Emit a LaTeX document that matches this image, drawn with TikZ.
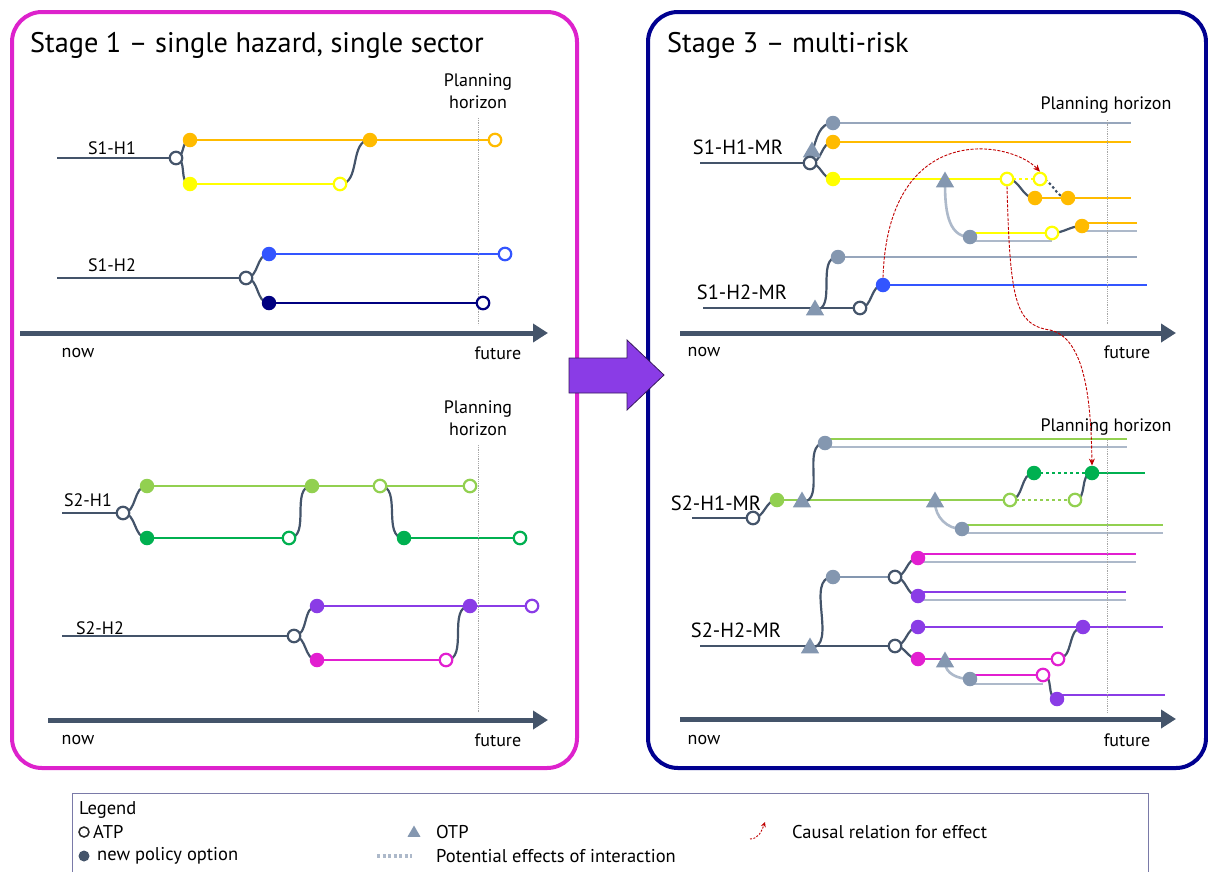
\documentclass[tikz,border=0pt]{standalone}
\usepackage{fontspec}
\setmainfont{PT Sans}
\usetikzlibrary{arrows.meta,shapes.geometric,calc}
\definecolor{slate}{HTML}{44546A}
\definecolor{orng}{HTML}{FFBB00}
\definecolor{yel}{HTML}{FFFF00}
\definecolor{blu}{HTML}{3355FF}
\definecolor{nav}{HTML}{000080}
\definecolor{lgr}{HTML}{92D050}
\definecolor{grn}{HTML}{00B050}
\definecolor{pur}{HTML}{8A3CE6}
\definecolor{mag}{HTML}{E21FD0}
\definecolor{gdot}{HTML}{8497B0}
\definecolor{glin}{HTML}{ADB9CA}
\definecolor{gmid}{HTML}{97A6BC}
\definecolor{redc}{HTML}{C00000}
\definecolor{panelA}{HTML}{DD22CC}
\definecolor{panelB}{HTML}{000090}
\definecolor{legb}{HTML}{7A7AA8}
\pgfdeclarelayer{bg}
\pgfsetlayers{bg,main}
\begin{document}
\begin{tikzpicture}[x=1pt,y=-1pt,
  ln/.style={line width=2.6pt},
  crv/.style={draw=slate,line width=2.2pt},
  gcrv/.style={draw=glin,line width=2.6pt},
  atp/.style={circle,draw=#1,fill=white,line width=2.2pt,minimum size=12.5pt,inner sep=0pt},
  npo/.style={circle,fill=#1,minimum size=14.5pt,inner sep=0pt},
  otp/.style={regular polygon,regular polygon sides=3,fill=gdot,minimum size=21pt,inner sep=0pt},
  lab/.style={font=\fontsize{18}{20}\selectfont,inner sep=0pt},
  labmr/.style={font=\fontsize{20.5}{22}\selectfont,inner sep=0pt},
  ttl/.style={font=\fontsize{28.3}{31}\selectfont,anchor=west,inner sep=0pt},
  lgd/.style={font=\fontsize{18.5}{20}\selectfont,anchor=west,inner sep=0pt},
  axisarrow/.style={draw=slate,line width=5pt,-{Triangle[length=15pt,width=18pt]}},
  horiz/.style={draw=black!35,densely dotted,line width=0.8pt},
  dotl/.style={line width=2.6pt,dash pattern=on 3pt off 3pt},
  causal/.style={draw=redc,line width=0.9pt,dash pattern=on 3pt off 1.5pt,-{Stealth[length=7pt,width=6pt]}},
  panel/.style={draw=#1,line width=4pt,rounded corners=30pt,inner sep=0pt},
]
\useasboundingbox (0,0) rectangle (1208,871);
% panels
\node[panel=panelA,minimum width=565pt,minimum height=756pt] (P1) at (294.5,390) {};
\node[panel=panelB,minimum width=558pt,minimum height=756pt] (P3) at (927,390) {};
\node[ttl] (T1) at (30,45) {Stage 1 – single hazard, single sector};
\node[ttl] (T3) at (667,45) {Stage 3 – multi-risk};

% ================= LEFT TOP =================
\node[lab,align=center] (PH1) at (478,91) {Planning\\[2pt]horizon};
\coordinate (ph1a) at (478,118); \coordinate (ph1b) at (478,325);
\draw[horiz] (ph1a) -- (ph1b);
% S1-H1
\node[lab] (t11) at (112,148) {S1-H1};
\coordinate (b11) at (57,158);
\node[atp=slate] (a11) at (176,158) {};
\node[npo=orng] (o11) at (190,140) {};
\node[npo=yel] (y11) at (190,184) {};
\node[npo=orng] (o12) at (370,140) {};
\node[atp=orng] (o13) at (495,140) {};
\node[atp=yel] (y12) at (340,184) {};
% S1-H2
\node[lab] (t12) at (112,265) {S1-H2};
\coordinate (b12) at (57,278);
\node[atp=slate] (a12) at (246,278) {};
\node[npo=blu] (u11) at (269,254) {};
\node[npo=nav] (n11) at (269,303) {};
\node[atp=blu] (u12) at (505,254) {};
\node[atp=nav] (n12) at (483,303) {};
\begin{pgfonlayer}{bg}
\draw[ln,slate] (b11) -- (a11.center);
\draw[crv] (a11.center) to[out=0,in=180] (o11.center);
\draw[crv] (a11.center) to[out=0,in=180] (y11.center);
\draw[ln,orng] (o11.center) -- (o13.center);
\draw[ln,yel] (y11.center) -- (y12.center);
\draw[crv] (y12.center) to[out=0,in=180] (o12.center);
\draw[ln,slate] (b12) -- (a12.center);
\draw[crv] (a12.center) to[out=0,in=180] (u11.center);
\draw[crv] (a12.center) to[out=0,in=180] (n11.center);
\draw[ln,blu] (u11.center) -- (u12.center);
\draw[ln,nav] (n11.center) -- (n12.center);
\end{pgfonlayer}
\coordinate (ax1s) at (20,333); \coordinate (ax1e) at (548,333);
\draw[axisarrow] (ax1s) -- (ax1e);
\node[lab] (now1) at (78,353) {now};
\node[lab] (fut1) at (498,353) {future};

% ================= LEFT BOTTOM =================
\node[lab,align=center] (PH2) at (478,418) {Planning\\[2pt]horizon};
\coordinate (ph2a) at (478,445); \coordinate (ph2b) at (478,712);
\draw[horiz] (ph2a) -- (ph2b);
% S2-H1
\node[lab] (t21) at (88,500) {S2-H1};
\coordinate (b21) at (62,513);
\node[atp=slate] (a21) at (123,513) {};
\node[npo=lgr] (l21) at (147,486) {};
\node[npo=grn] (g21) at (147,538) {};
\node[npo=lgr] (l22) at (312,486) {};
\node[atp=lgr] (l23) at (380,486) {};
\node[atp=lgr] (l24) at (470,486) {};
\node[atp=grn] (g22) at (289,538) {};
\node[npo=grn] (g23) at (404,538) {};
\node[atp=grn] (g24) at (520,538) {};
% S2-H2
\node[lab] (t22) at (100,628) {S2-H2};
\coordinate (b22) at (62,636);
\node[atp=slate] (a22) at (294,636) {};
\node[npo=pur] (p21) at (317,606) {};
\node[npo=mag] (m21) at (317,660) {};
\node[npo=pur] (p22) at (470,606) {};
\node[atp=pur] (p23) at (532,606) {};
\node[atp=mag] (m22) at (446,660) {};
\begin{pgfonlayer}{bg}
\draw[ln,slate] (b21) -- (a21.center);
\draw[crv] (a21.center) to[out=0,in=180] (l21.center);
\draw[crv] (a21.center) to[out=0,in=180] (g21.center);
\draw[ln,lgr] (l21.center) -- (l24.center);
\draw[ln,grn] (g21.center) -- (g22.center);
\draw[crv] (g22.center) to[out=0,in=180] (l22.center);
\draw[crv] (l23.center) to[out=0,in=180] (g23.center);
\draw[ln,grn] (g23.center) -- (g24.center);
\draw[ln,slate] (b22) -- (a22.center);
\draw[crv] (a22.center) to[out=0,in=180] (p21.center);
\draw[crv] (a22.center) to[out=0,in=180] (m21.center);
\draw[ln,pur] (p21.center) -- (p23.center);
\draw[ln,mag] (m21.center) -- (m22.center);
\draw[crv] (m22.center) to[out=0,in=180] (p22.center);
\end{pgfonlayer}
\coordinate (ax2s) at (48,720); \coordinate (ax2e) at (548,720);
\draw[axisarrow] (ax2s) -- (ax2e);
\node[lab] (now2) at (78,740) {now};
\node[lab] (fut2) at (498,740) {future};

% ================= RIGHT TOP =================
\node[lab] (PH3) at (1106,105) {Planning horizon};
\coordinate (ph3a) at (1107,120); \coordinate (ph3b) at (1107,325);
\draw[horiz] (ph3a) -- (ph3b);
% S1-H1-MR
\node[labmr] (t31) at (738,147) {S1-H1-MR};
\coordinate (b31) at (700,163);
\node[otp] (o31) at (812,152) {};
\node[atp=slate] (a31) at (810,163) {};
\node[npo=gdot] (g31) at (833,123) {};
\node[npo=orng] (r31) at (833,142) {};
\node[npo=yel] (y31) at (833,179) {};
\node[atp=yel] (y32) at (1007,179) {};
\node[atp=yel] (y33) at (1040,179) {};
\node[npo=orng] (r32) at (1035,198) {};
\node[npo=orng] (r33) at (1068,198) {};
\node[otp] (o32) at (945,182) {};
\node[npo=gdot] (g32) at (970,237) {};
\node[atp=yel] (y34) at (1052,233) {};
\node[npo=orng] (r34) at (1082,226) {};
% S1-H2-MR
\node[labmr] (t32) at (742,292) {S1-H2-MR};
\coordinate (b32) at (703,308);
\node[otp] (o33) at (815,310) {};
\node[atp=slate] (a32) at (860,308) {};
\node[npo=gdot] (g33) at (838,257) {};
\node[npo=blu] (u31) at (883,285) {};
\begin{pgfonlayer}{bg}
\draw[ln,slate] (b31) -- (a31.center);
\draw[crv] (a31.center) to[out=0,in=180] (r31.center);
\draw[crv] (a31.center) to[out=0,in=180] (y31.center);
\draw[crv] (o31.center) to[out=70,in=180] (g31.center);
\draw[ln,gmid] (g31.center) -- (1131,123);
\draw[ln,orng] (r31.center) -- (1131,142);
\draw[ln,yel] (y31.center) -- (y32.center);
\draw[dotl,yel] (y32.center) -- (y33.center);
\draw[crv] (y32.center) to[out=0,in=180] (r32.center);
\draw[crv,dash pattern=on 2.5pt off 2.5pt] (y33.center) to[out=0,in=180] (r33.center);
\draw[ln,orng] (r32.center) -- (1131,198);
\draw[gcrv] (o32.center) to[out=-90,in=180] (g32.center);
\draw[ln,yel] (970,233) -- (y34.center);
\draw[ln,glin] (970,241) -- (1052,241);
\draw[crv] (y34.center) to[out=0,in=180] (r34.center);
\draw[ln,orng] (1082,223) -- (1137,223);
\draw[ln,glin] (1082,231) -- (1137,231);
\draw[ln,slate] (b32) -- (a32.center);
\draw[crv] (o33.center) to[out=0,in=180] (g33.center);
\draw[ln,gmid] (g33.center) -- (1137,257);
\draw[crv] (a32.center) to[out=0,in=180] (u31.center);
\draw[ln,blu] (u31.center) -- (1147,285);
\end{pgfonlayer}
\coordinate (ax3s) at (680,333); \coordinate (ax3e) at (1176,333);
\draw[axisarrow] (ax3s) -- (ax3e);
\node[lab] (now3) at (704,352) {now};
\node[lab] (fut3) at (1127,352) {future};

% ================= RIGHT BOTTOM =================
\node[lab] (PH4) at (1106,427) {Planning horizon};
\coordinate (ph4a) at (1107,440); \coordinate (ph4b) at (1107,712);
\draw[horiz] (ph4a) -- (ph4b);
% S2-H1-MR
\node[labmr] (t41) at (716,503) {S2-H1-MR};
\coordinate (b41) at (692,518);
\node[atp=slate] (a41) at (753,518) {};
\node[npo=lgr] (l41) at (777,500) {};
\node[otp] (o41) at (802,502) {};
\node[npo=gdot] (g41) at (825,443) {};
\node[atp=lgr] (l42) at (1010,500) {};
\node[atp=lgr] (l43) at (1075,500) {};
\node[npo=grn] (n41) at (1034,473) {};
\node[npo=grn] (n42) at (1092,473) {};
\node[otp] (o42) at (935,502) {};
\node[npo=gdot] (g42) at (962,529) {};
% S2-H2-MR
\node[labmr] (t42) at (736,630) {S2-H2-MR};
\coordinate (b42) at (700,646);
\node[otp] (o43) at (810,648) {};
\node[atp=slate] (a42) at (895,646) {};
\node[npo=gdot] (g43) at (833,577) {};
\node[atp=slate] (a43) at (895,577) {};
\node[npo=mag] (m41) at (918,558) {};
\node[npo=pur] (p41) at (918,596) {};
\node[npo=pur] (p42) at (918,627) {};
\node[npo=mag] (m42) at (918,659) {};
\node[npo=pur] (p43) at (1083,627) {};
\node[atp=mag] (m43) at (1058,659) {};
\node[otp] (o44) at (945,662) {};
\node[npo=gdot] (g44) at (970,679) {};
\node[atp=mag] (m44) at (1043,675) {};
\node[npo=pur] (p44) at (1057,699) {};
\begin{pgfonlayer}{bg}
\draw[ln,slate] (b41) -- (a41.center);
\draw[crv] (a41.center) to[out=0,in=180] (l41.center);
\draw[ln,lgr] (l41.center) -- (l42.center);
\draw[crv] (o41.center) to[out=0,in=180] (g41.center);
\draw[ln,lgr] (825,439) -- (1127,439);
\draw[ln,glin] (825,447) -- (1127,447);
\draw[gcrv] (o42.center) to[out=-90,in=180] (g42.center);
\draw[ln,lgr] (962,525) -- (1163,525);
\draw[ln,glin] (962,533) -- (1163,533);
\draw[dotl,lgr] (l42.center) -- (l43.center);
\draw[crv] (l42.center) to[out=0,in=180] (n41.center);
\draw[dotl,grn] (n41.center) -- (n42.center);
\draw[crv] (l43.center) to[out=0,in=180] (n42.center);
\draw[ln,grn] (n42.center) -- (1145,473);
\draw[ln,slate] (b42) -- (a42.center);
\draw[crv] (o43.center) to[out=0,in=180] (g43.center);
\draw[ln,gdot] (g43.center) -- (a43.center);
\draw[crv] (a43.center) to[out=0,in=180] (m41.center);
\draw[crv] (a43.center) to[out=0,in=180] (p41.center);
\draw[ln,mag] (918,554) -- (1136,554);
\draw[ln,glin] (918,562) -- (1136,562);
\draw[ln,pur] (918,592) -- (1126,592);
\draw[ln,glin] (918,600) -- (1126,600);
\draw[crv] (a42.center) to[out=0,in=180] (p42.center);
\draw[crv] (a42.center) to[out=0,in=180] (m42.center);
\draw[ln,pur] (p42.center) -- (1163,627);
\draw[ln,mag] (m42.center) -- (m43.center);
\draw[crv] (m43.center) to[out=0,in=180] (p43.center);
\draw[gcrv] (o44.center) to[out=-90,in=180] (g44.center);
\draw[ln,mag] (970,675) -- (m44.center);
\draw[ln,glin] (970,684) -- (1043,684);
\draw[crv] (m44.center) to[out=0,in=180] (p44.center);
\draw[ln,pur] (1057,695) -- (1165,695);
\end{pgfonlayer}
\coordinate (ax4s) at (680,719); \coordinate (ax4e) at (1176,719);
\draw[axisarrow] (ax4s) -- (ax4e);
\node[lab] (now4) at (704,740) {now};
\node[lab] (fut4) at (1127,740) {future};

% causal relations
\draw[causal] (u31.north) .. controls (888,120) and (1010,140) .. (y33.north);
\draw[causal] (y32.south) .. controls (1010,300) and (1015,325) .. (1050,330) .. controls (1085,338) and (1091,400) .. (n42.north);

% middle arrow
\draw[fill=pur,draw=black!60!pur,line width=0.8pt] (569,358) -- (627,358) -- (627,340) -- (664,375) -- (627,410) -- (627,393) -- (569,393) -- cycle;

% ================= LEGEND =================
\node[draw=legb,line width=1pt,minimum width=1076pt,minimum height=100pt,anchor=north west,inner sep=0pt] (LEG) at (72,793) {};
\node[lgd] (lg0) at (79,810) {Legend};
\node[circle,draw=black!85,line width=1.5pt,minimum size=10pt,inner sep=0pt] (lgA) at (84,832) {};
\node[lgd] (lgAt) at (93,832) {ATP};
\node[circle,fill=slate,minimum size=11pt,inner sep=0pt] (lgN) at (84,856) {};
\node[lgd] (lgNt) at (97,856) {new policy option};
\node[regular polygon,regular polygon sides=3,fill=gdot,minimum size=15pt,inner sep=0pt] (lgO) at (414,833) {};
\node[lgd] (lgOt) at (436,832) {OTP};
\coordinate (lgPa) at (377,856); \coordinate (lgPb) at (412,856);
\draw[glin,line width=3.5pt,dash pattern=on 3pt off 2.5pt] (lgPa) -- (lgPb);
\node[lgd] (lgPt) at (436,856) {Potential effects of interaction};
\coordinate (lgCa) at (750,839); \coordinate (lgCb) at (765,822);
\draw[draw=redc,line width=0.9pt,dash pattern=on 2pt off 1.5pt,-{Stealth[length=5pt,width=5pt]}] (lgCa) to[out=0,in=-110] (lgCb);
\node[lgd] (lgCt) at (792,832) {Causal relation for effect};
\end{tikzpicture}
\end{document}
